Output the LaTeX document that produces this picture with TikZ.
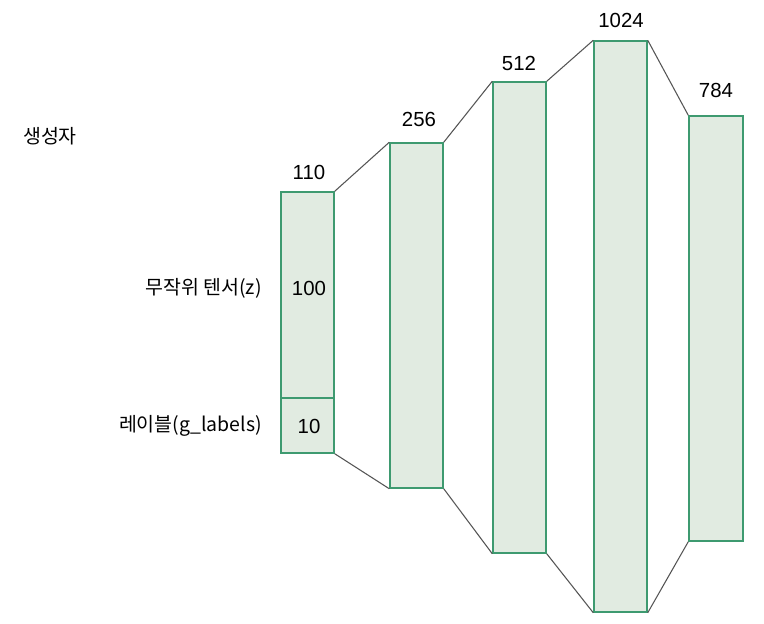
\documentclass[tikz,border=0pt]{standalone}
\usepackage{fontspec}
\setmainfont{Liberation Sans}
\newfontfamily\krfont{Noto Sans CJK KR}
\definecolor{layerfill}{RGB}{225,235,225}
\definecolor{layerdraw}{RGB}{62,154,112}
\definecolor{linkgray}{RGB}{85,85,85}
\tikzset{
  layerbox/.style={draw=layerdraw, fill=layerfill, line width=1.1pt, rectangle, inner sep=0pt, minimum width=39.75pt},
  link/.style={draw=linkgray, line width=0.8pt},
  numtext/.style={font=\fontsize{15.3}{18}\selectfont, inner sep=0pt},
  krtext/.style={font=\krfont\fontsize{14.6}{17}\selectfont, inner sep=0pt}
}
\begin{document}
\begin{tikzpicture}[x=0.75pt,y=0.75pt,yscale=-1]
\useasboundingbox (0,0) rectangle (764,624);
% Layers
\node [layerbox, minimum height=154.5pt] (noise) at (307.5,295) {};
\node [layerbox, minimum height=41.25pt] (lbl) at (307.5,425.5) {};
\node [layerbox, minimum height=258.75pt] (h1) at (416.5,315.5) {};
\node [layerbox, minimum height=353.25pt] (h2) at (519.5,317.5) {};
\node [layerbox, minimum height=428.25pt] (h3) at (620.5,326.5) {};
\node [layerbox, minimum height=318.75pt, minimum width=40.5pt] (out) at (716,328.5) {};
% Links
\draw [link] (noise.north east) -- (h1.north west);
\draw [link] (lbl.south east) -- (h1.south west);
\draw [link] (h1.north east) -- (h2.north west);
\draw [link] (h1.south east) -- (h2.south west);
\draw [link] (h2.north east) -- (h3.north west);
\draw [link] (h2.south east) -- (h3.south west);
\draw [link] (h3.north east) -- (out.north west);
\draw [link] (h3.south east) -- (out.south west);
% Text Node
\node [numtext] (n110) at (309,172) {110};
\node [numtext] (n100) at (309,288) {100};
\node [numtext] (n10) at (309,426) {10};
\node [numtext] (n256) at (419,119) {256};
\node [numtext] (n512) at (519,63) {512};
\node [numtext] (n1024) at (621,20) {1024};
\node [numtext] (n784) at (716,90) {784};
% Text Node
\node [krtext] (gen) at (50,136) {생성자};
\node [krtext, anchor=east] (zlab) at (262,288) {무작위 텐서(z)};
\node [krtext, anchor=east] (glab) at (262,426) {레이블(g\_labels)};
\end{tikzpicture}
\end{document}
